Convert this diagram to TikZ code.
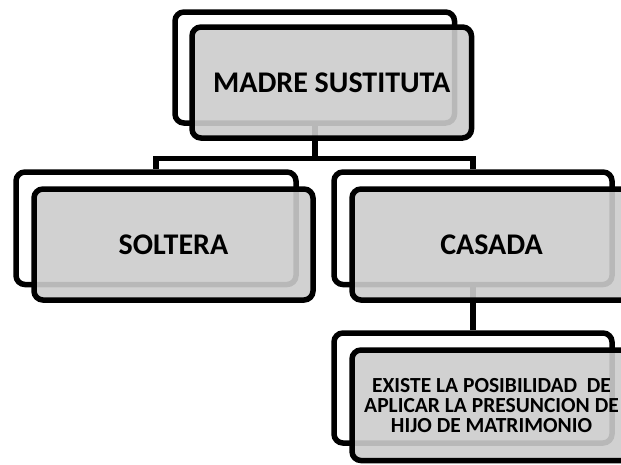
\documentclass[tikz,border=0pt]{standalone}
\usepackage{fontspec}
\setmainfont{Carlito}
\usetikzlibrary{calc}
\definecolor{boxgray}{RGB}{205,205,205}
\begin{document}
\begin{tikzpicture}[x=1pt,y=-1pt,
  backbox/.style={draw=black, line width=5.5pt, rounded corners=9pt, fill=white, rectangle, inner sep=0pt},
  frontbox/.style={draw=black, line width=5.5pt, rounded corners=9pt, fill=boxgray, fill opacity=0.9, text opacity=1, rectangle, inner sep=0pt, align=center, font=\bfseries\fontsize{30}{32}\selectfont},
  smalltext/.style={font=\bfseries\fontsize{21.5}{20}\selectfont},
  conn/.style={draw=black, line width=5.5pt}]
\clip (0,0) rectangle (621,464);
\fill[white] (0,0) rectangle (621,464);
% back frames
\node[backbox, minimum width=279.5pt, minimum height=111pt] (tb) at (314.75,67.5) {};
\node[backbox, minimum width=280pt, minimum height=112.5pt] (sb) at (156,228.25) {};
\node[backbox, minimum width=278pt, minimum height=112.5pt] (cb) at (473,228.25) {};
\node[backbox, minimum width=278pt, minimum height=110pt] (bb) at (473,388) {};
% connectors
\coordinate (j) at ($(tb.south)+(0,32.5)$);
\draw[conn] (tb.south) -- (j);
\draw[conn] (j) -| (sb.north);
\draw[conn] (j) -| (cb.north);
\draw[conn] (cb.south) -- (bb.north);
% front boxes
\node[frontbox, minimum width=279.5pt, minimum height=111pt] (tf) at (331.75,82.5) {MADRE SUSTITUTA};
\node[frontbox, minimum width=279pt, minimum height=111pt] (sf) at (173.5,244.5) {SOLTERA};
\node[frontbox, minimum width=279pt, minimum height=111pt] (cf) at (491.5,244.5) {CASADA};
\node[frontbox, smalltext, minimum width=279pt, minimum height=110.5pt] (bf) at (491.5,405.25) {EXISTE LA POSIBILIDAD~ DE\\APLICAR LA PRESUNCION DE\\HIJO DE MATRIMONIO};
\end{tikzpicture}
\end{document}
